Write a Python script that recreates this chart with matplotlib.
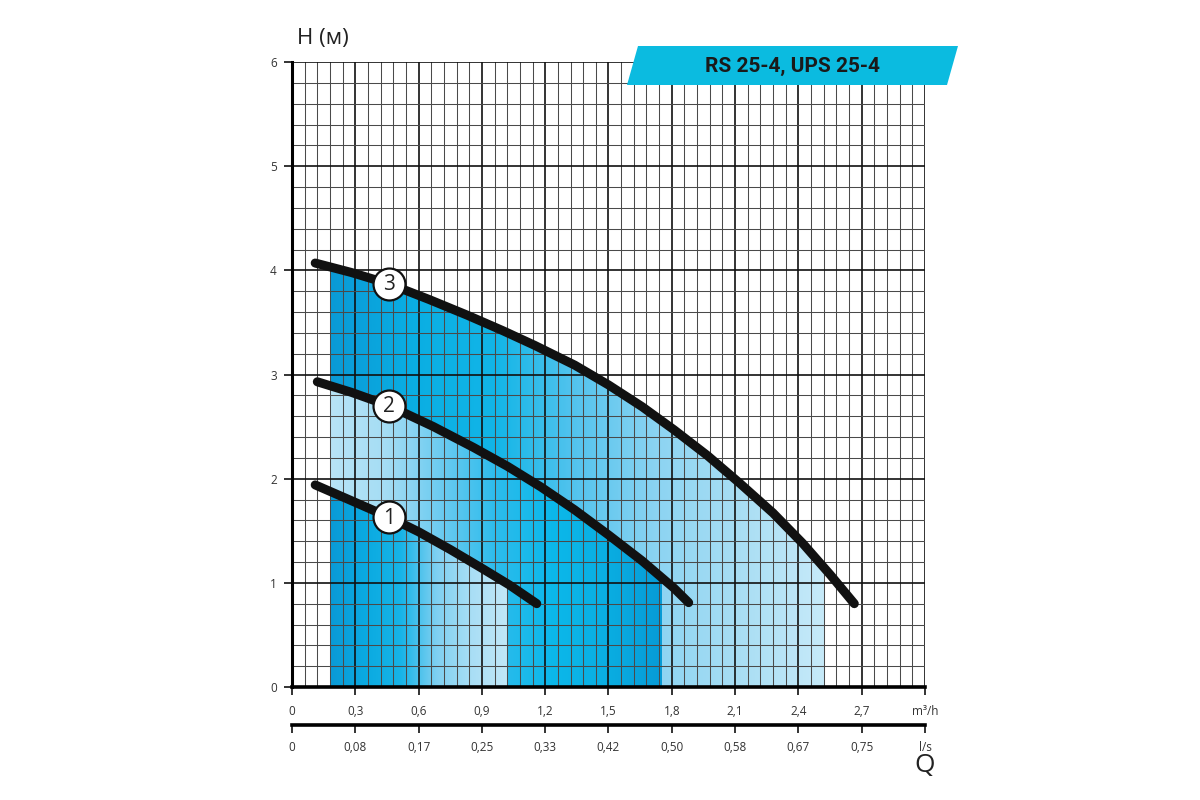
import numpy as np
import matplotlib
matplotlib.use("Agg")
import matplotlib.pyplot as plt
from matplotlib.patches import Polygon
from matplotlib.colors import LinearSegmentedColormap

plt.rcParams['font.family'] = ['Open Sans', 'DejaVu Sans']

# Pump curves, Q in m3/h, H in m
q1 = [0.11, 0.28, 0.46, 0.60, 0.75, 0.90, 1.03, 1.16]
h1 = [1.94, 1.79, 1.63, 1.49, 1.32, 1.14, 0.98, 0.80]
q2 = [0.12, 0.28, 0.46, 0.67, 0.86, 1.02, 1.18, 1.34, 1.50, 1.66, 1.81, 1.88]
h2 = [2.93, 2.83, 2.70, 2.50, 2.30, 2.12, 1.92, 1.70, 1.46, 1.21, 0.95, 0.81]
q3 = [0.11, 0.28, 0.46, 0.65, 0.83, 1.00, 1.15, 1.34, 1.50, 1.66, 1.81, 1.97,
      2.12, 2.28, 2.42, 2.55, 2.665]
h3 = [4.07, 3.98, 3.87, 3.72, 3.57, 3.42, 3.28, 3.09, 2.90, 2.69, 2.47, 2.22,
      1.96, 1.67, 1.38, 1.08, 0.80]
speeds = ['1', '2', '3']
label_idx = 2  # label circles sit on the 3rd point of each curve

# working ranges (shaded) per speed
range_lo = [0.18, 0.18, 0.18]
range_hi = [1.02, 1.75, 2.52]

# axes ticks
q_ticks = [0, 0.3, 0.6, 0.9, 1.2, 1.5, 1.8, 2.1, 2.4, 2.7, 3.0]
m3h_labels = ['0', '0,3', '0,6', '0,9', '1,2', '1,5', '1,8', '2,1', '2,4', '2,7', 'm\u00b3/h']
ls_labels = ['0', '0,08', '0,17', '0,25', '0,33', '0,42', '0,50', '0,58', '0,67', '0,75', 'l/s']
h_ticks = [0, 1, 2, 3, 4, 5, 6]

# horizontal gradient for each shaded band
grad_colors = [
    ['#0a9ad6', '#0aaae1', '#18b4e7', '#7fd0f1', '#a9def5', '#c2e8f8'],
    ['#b8e4f7', '#a5ddf4', '#6ccbf0', '#2dbcec', '#0cb8ea', '#0aaee2', '#079bd6'],
    ['#0a9ad6', '#0aaee3', '#12b5e7', '#55c4ee', '#8dd4f2', '#a9def4', '#c6eaf9'],
]

fig = plt.figure(figsize=(12, 8), dpi=100)
ax = fig.add_axes([292 / 1200, 1 - 687 / 800, 633 / 1200, 625 / 800])

curves = [(q1, h1), (q2, h2), (q3, h3)]

# shaded bands, widest first so narrower ones sit on top
for i in [2, 1, 0]:
    q, h = curves[i]
    xs = list(q) + [q[-1], q[0]]
    ys = list(h) + [0, 0]
    clip = Polygon(np.column_stack([xs, ys]), closed=True, facecolor='none',
                   edgecolor='none', transform=ax.transData)
    ax.add_patch(clip)
    cmap = LinearSegmentedColormap.from_list('band%d' % i, grad_colors[i])
    im = ax.imshow(np.linspace(0, 1, 256).reshape(1, -1), cmap=cmap,
                   extent=[range_lo[i], range_hi[i], 0, 6], aspect='auto',
                   interpolation='bilinear', zorder=1)
    im.set_clip_path(clip)

# curves
for (q, h) in curves:
    ax.plot(q, h, color='#111111', lw=6.5, solid_capstyle='round',
            solid_joinstyle='round', zorder=4)

# numbered circles
for (q, h), s in zip(curves, speeds):
    ax.plot(q[label_idx], h[label_idx], 'o', ms=23, mfc='white', mec='#111111',
            mew=1.6, zorder=5)
    ax.text(q[label_idx], h[label_idx] - 0.01, s, ha='center', va='center',
            fontsize=15, color='#222222', zorder=6)

ax.set_xlim(0, 3.0)
ax.set_ylim(0, 6)

ax.set_xticks(q_ticks, labels=m3h_labels)
ax.set_xticks(np.arange(0, 3.001, 0.06), minor=True)
ax.set_yticks(h_ticks, labels=[str(v) for v in h_ticks])
ax.set_yticks(np.arange(0, 6.001, 0.2), minor=True)

ax.set_axisbelow(False)
ax.grid(which='major', color='#111111', lw=1.2)
ax.grid(which='minor', color='#4a4a4a', lw=0.75)

ax.tick_params(which='minor', length=0)
ax.tick_params(which='major', length=6, width=1.2, color='#111111',
               labelsize=8.5, labelcolor='#333333', pad=5)
ax.tick_params(axis='x', pad=7)

for s in ['top', 'right']:
    ax.spines[s].set_visible(False)
ax.spines['left'].set_linewidth(2.2)
ax.spines['bottom'].set_linewidth(2.6)
ax.spines['left'].set_zorder(3)
ax.spines['bottom'].set_zorder(3)

# second flow scale in l/s
sec = ax.secondary_xaxis(-0.06)
sec.set_xticks(q_ticks, labels=ls_labels)
sec.spines['bottom'].set_linewidth(2.6)
sec.tick_params(length=6, width=1.2, color='#111111', labelsize=8.5,
                labelcolor='#333333', pad=6)

ax.text(0.049, 1.038, 'H (\u043c)', transform=ax.transAxes, ha='center',
        va='center', fontsize=16, color='#222222')
ax.text(1.0, -0.125, 'Q', transform=ax.transAxes, ha='center', va='center',
        fontsize=19, color='#222222')

# title banner
banner = [(638, 46), (958, 46), (947, 85), (627, 85)]
fig.patches.append(Polygon([(x / 1200, 1 - y / 800) for x, y in banner], closed=True,
                           facecolor='#0bbbe0', edgecolor='none',
                           transform=fig.transFigure, figure=fig, zorder=10))
fig.text(792 / 1200, 1 - 66 / 800, 'RS 25-4, UPS 25-4', ha='center', va='center',
         fontsize=15, fontweight='bold', family=['Roboto', 'DejaVu Sans'],
         color='#1a1a1a', zorder=11)

fig.savefig('out.png', dpi=100, facecolor='white')
